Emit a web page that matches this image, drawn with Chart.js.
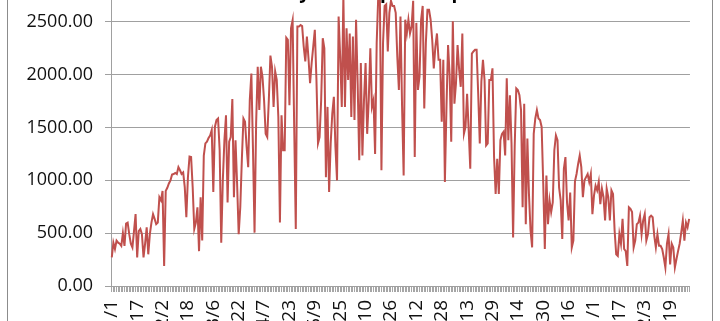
<!DOCTYPE html>
<html>
<head>
<meta charset="utf-8">
<script src="https://cdn.jsdelivr.net/npm/chart.js@4"></script>
<style>
  html, body { margin: 0; padding: 0; background: #fff; overflow: hidden; }
  body { width: 720px; height: 321px; position: relative; }
  #frame { position: absolute; left: 7px; top: -20px; width: 706px; height: 400px;
           border-left: 1px solid #8c8c8c; border-right: 1px solid #8c8c8c; box-sizing: border-box; }
  #chart { position: absolute; left: 0; top: -60px; }
</style>
</head>
<body>
<div id="frame"></div>
<canvas id="chart" width="720" height="390"></canvas>
<script>
// days per month, labels are m/d for every day of the year
const MONTH_DAYS = [31, 28, 31, 30, 31, 30, 31, 31, 30, 31, 30, 31];
const LABEL_STEP = 16;
const Y_MAX = 3000;
const Y_STEP = 500;
const TITLE = "Daily PV Output Graph";

// daily values
const output = [
  270,410,350,430,410,400,380,500,380,590,
  600,490,400,365,520,680,270,520,540,490,
  270,400,555,300,490,600,680,635,585,600,
  840,810,900,190,900,930,970,1000,1055,1060,
  1070,1060,1125,1095,1060,1075,935,650,1030,1225,
  1220,935,540,600,745,330,840,430,1235,1350,
  1365,1400,1425,1475,890,1505,1570,1585,1285,410,
  1000,1380,1615,790,1365,1410,1770,840,1380,970,
  490,745,1200,1585,1555,1315,1125,1760,2010,1300,
  505,1540,2075,1665,2075,1980,1760,1440,1410,1760,
  2180,2075,1695,2030,1950,1600,600,1615,1285,1285,
  2350,2330,1710,2440,2515,1500,540,2455,2455,
  2470,2460,2265,2125,2360,2155,1920,2110,2265,2425,
  1965,1350,1410,1760,2345,2250,1030,1695,890,1350,
  1630,1790,1315,1000,2550,2170,1695,2750,1695,2440,
  1950,2390,1600,2360,1570,2520,1920,1190,2110,1235,
  1760,2110,1440,1760,2250,1695,1760,1250,2300,2750,
  2750,1095,2300,2650,2665,2220,2585,2700,2650,2650,
  2585,2170,1855,2550,1700,1045,2520,2390,2520,2390,
  2455,2700,1220,2490,1855,1980,2520,2650,1680,2300,
  2615,2615,2520,2330,2060,2265,2390,2140,2140,1555,
  2140,985,1695,2280,1995,1365,2505,1725,1920,2280,
  2045,1885,2390,1440,1505,1820,1475,1110,2200,2220,
  2235,2235,1820,1350,1935,2140,1950,1330,1350,1950,
  1950,
  2060,1220,870,1205,870,1380,1440,1460,1235,1965,
  1380,1805,1350,460,1315,1870,1855,1805,1665,745,
  1725,585,1395,870,525,365,1440,1585,1665,1585,
  1570,1505,970,350,1045,585,810,700,790,1285,
  1425,1380,930,810,445,1110,1220,790,620,885,
  365,430,990,1060,1155,1235,1125,840,1000,1030,
  1060,985,1060,680,855,950,905,985,775,920,
  840,620,920,840,620,905,870,525,300,285,
  490,400,635,350,330,190,745,730,700,365,
  430,585,600,665,490,620,680,430,490,650,
  665,650,475,365,490,380,380,350,270,175,
  400,490,205,400,365,175,255,330,400,505,
  620,430,600,555,635
];

const days = [];
MONTH_DAYS.forEach((n, m) => {
  for (let d = 1; d <= n; d++) days.push((m + 1) + "/" + d);
});

const yFont = { family: "'Open Sans', sans-serif", size: 18 };
const xFont = { family: "'Open Sans', sans-serif", size: 19 };

// title sits mostly above the visible area, only its bottom shows
const titlePlugin = {
  id: "cutTitle",
  afterDraw(chart) {
    const ctx = chart.ctx;
    ctx.save();
    ctx.font = "bold 19px 'Open Sans', sans-serif";
    ctx.fillStyle = "#000";
    ctx.textAlign = "center";
    ctx.textBaseline = "alphabetic";
    ctx.fillText(TITLE, 369, 58);
    ctx.restore();
  }
};

new Chart(document.getElementById("chart"), {
  type: "line",
  data: {
    labels: days,
    datasets: [{
      label: "Output",
      data: output,
      borderColor: "#c0504d",
      borderWidth: 2,
      pointRadius: 0,
      tension: 0,
      fill: false
    }]
  },
  options: {
    responsive: false,
    animation: false,
    devicePixelRatio: 1,
    layout: { padding: { top: 29, right: 27, left: 0, bottom: 0 } },
    plugins: {
      legend: { display: false },
      tooltip: { enabled: false },
      title: { display: false }
    },
    scales: {
      x: {
        offset: true,
        grid: { drawOnChartArea: false, drawTicks: true, tickLength: 6, color: "#a6a6a6" },
        border: { color: "#a0a0a0", width: 1 },
        ticks: {
          autoSkip: false,
          minRotation: 90,
          maxRotation: 90,
          padding: 8,
          color: "#111",
          font: xFont,
          callback: function (v, i) {
            return i % LABEL_STEP === 0 ? days[i] : "";
          }
        },
        afterFit: function (s) { s.height = 44; }
      },
      y: {
        min: 0,
        max: Y_MAX,
        grid: { color: "#a0a0a0", tickLength: 6 },
        border: { color: "#a0a0a0", width: 1 },
        ticks: {
          stepSize: Y_STEP,
          padding: 12,
          color: "#111",
          font: yFont,
          callback: function (v) { return v.toFixed(2); }
        },
        afterFit: function (s) { s.width = 111; }
      }
    }
  },
  plugins: [titlePlugin]
});
</script>
</body>
</html>
